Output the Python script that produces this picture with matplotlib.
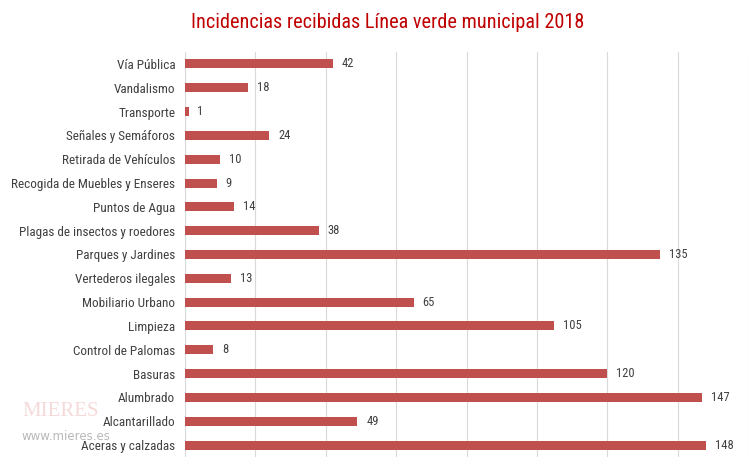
import matplotlib
matplotlib.use("Agg")
import matplotlib.pyplot as plt

categories = ["Vía Pública", "Vandalismo", "Transporte", "Señales y Semáforos",
              "Retirada de Vehículos", "Recogida de Muebles y Enseres", "Puntos de Agua",
              "Plagas de insectos y roedores", "Parques y Jardines", "Vertederos ilegales",
              "Mobiliario Urbano", "Limpieza", "Control de Palomas", "Basuras",
              "Alumbrado", "Alcantarillado", "Aceras y calzadas"]
values = [42, 18, 1, 24, 10, 9, 14, 38, 135, 13, 65, 105, 8, 120, 147, 49, 148]
title = "Incidencias recibidas Línea verde municipal 2018"

plt.rcParams['font.family'] = ["Roboto Condensed", "DejaVu Sans"]

fig = plt.figure(figsize=(7.5, 4.68), dpi=100)
ax = fig.add_axes([185/750, 1-457/468, (748-185)/750, (457-52)/468])

n = len(categories)
ypos = list(range(n))[::-1]
ax.barh(ypos, values, height=0.38, color="#C0504D", zorder=3)
for y, v in zip(ypos, values):
    ax.text(v + 2.5, y, str(v), va="center", ha="left", fontsize=9, color="#404040")

ax.set_xlim(0, 160)
ax.set_ylim(-0.5, n - 0.5)
ax.set_xticks(range(0, 161, 20))
ax.set_xticklabels([])
ax.tick_params(axis="x", length=0)
ax.grid(axis="x", color="#D9D9D9", linewidth=0.8, zorder=0)
ax.set_yticks(ypos)
ax.set_yticklabels(categories, fontsize=9.5, color="#404040")
ax.tick_params(axis="y", length=0, pad=7)
for s in ax.spines.values():
    s.set_visible(False)
ax.axvline(0, color="#D9D9D9", linewidth=0.8, zorder=0)

fig.text(388/750, 1-22/468, title, ha="center", va="center", fontsize=14.6, color="#C00000")

# faint watermark
fig.text(22/750, 1-412/468, "MIERES", fontsize=15, color="#F5DADA", family="Liberation Serif", va="center", zorder=0)
fig.text(22/750, 1-437/468, "www.mieres.es", fontsize=8.5, color="#B8B8B8", family="DejaVu Sans", va="center", zorder=0)

fig.savefig("out.png", dpi=100)
